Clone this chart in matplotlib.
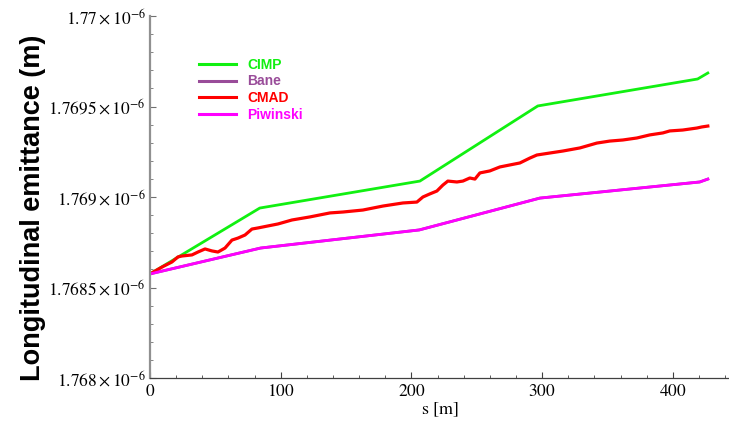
import matplotlib
matplotlib.use('Agg')
from matplotlib import pyplot as plt
from matplotlib.ticker import MultipleLocator, FuncFormatter

plt.rcParams['mathtext.fontset'] = 'stix'
plt.rcParams['font.family'] = 'Liberation Serif'

# s [m] and emittance (units of 1e-6 m)
cimp_s = [0, 84.0, 206.5, 296.7, 419.0, 426.8]
cimp_e = [1.768575, 1.768939, 1.769088, 1.769503, 1.769652, 1.769685]

piw_s = [0, 84.6, 206.0, 298.3, 420.6, 426.8]
piw_e = [1.768575, 1.768718, 1.768818, 1.768994, 1.769083, 1.769099]

# Bane sits underneath Piwinski in the reference
bane_s = piw_s
bane_e = piw_e

cmad_s = [0, 9.2, 16.8, 21.4, 24.5, 32.1, 36.7, 42.1, 47.4, 52.0, 57.4, 62.7,
          67.3, 72.7, 78.0, 82.6, 90.2, 97.9, 108.6, 122.4, 137.7, 147.6, 162.9,
          178.2, 193.5, 204.2, 208.8, 214.1, 219.5, 224.1, 227.9, 234.8, 239.4,
          244.7, 248.6, 252.4, 260.0, 267.7, 275.3, 283.0, 290.6, 296.0, 305.9,
          315.9, 328.9, 341.9, 351.8, 361.8, 372.5, 382.4, 392.4, 397.7, 407.6,
          418.4, 422.2, 426.8]
cmad_e = [1.768575, 1.768613, 1.768641, 1.768669, 1.768674, 1.768680, 1.768696,
          1.768713, 1.768702, 1.768696, 1.768718, 1.768762, 1.768773, 1.768790,
          1.768823, 1.768829, 1.768840, 1.768851, 1.768873, 1.768890, 1.768912,
          1.768917, 1.768928, 1.768950, 1.768967, 1.768972, 1.769000, 1.769017,
          1.769033, 1.769066, 1.769088, 1.769083, 1.769088, 1.769105, 1.769099,
          1.769133, 1.769144, 1.769166, 1.769177, 1.769188, 1.769215, 1.769232,
          1.769243, 1.769254, 1.769271, 1.769298, 1.769309, 1.769315, 1.769326,
          1.769343, 1.769354, 1.769365, 1.769370, 1.769381, 1.769387, 1.769392]

green = '#11f011'
purple = '#994c99'
red = '#ff0000'
magenta = '#ff00ff'

fig = plt.figure(figsize=(7.29, 4.22), dpi=100)
ax = fig.add_axes([150 / 729, 44 / 422, 579 / 729, 362 / 422])

ax.plot(cimp_s, cimp_e, color=green, lw=2.0, label='CIMP')
ax.plot(bane_s, bane_e, color=purple, lw=2.0, label='Bane')
ax.plot(cmad_s, cmad_e, color=red, lw=2.3, label='CMAD')
ax.plot(piw_s, piw_e, color=magenta, lw=2.0, label='Piwinski')

ax.set_xlim(0, 443)
ax.set_ylim(1.768, 1.770)

ax.xaxis.set_major_locator(MultipleLocator(100))
ax.xaxis.set_minor_locator(MultipleLocator(20))
ax.yaxis.set_major_locator(MultipleLocator(0.0005))
ax.yaxis.set_minor_locator(MultipleLocator(0.0001))


def sci(v, pos):
    m = ('%.4f' % v).rstrip('0')
    return r'$\mathrm{%s\times10^{-6}}$' % m


ax.yaxis.set_major_formatter(FuncFormatter(sci))
ax.xaxis.set_major_formatter(FuncFormatter(lambda v, p: r'$\mathrm{%d}$' % v))

for side in ['top', 'right']:
    ax.spines[side].set_visible(False)
ax.spines['left'].set_color('#909090')
ax.spines['left'].set_linewidth(1.6)
ax.spines['bottom'].set_color('#404040')
ax.spines['bottom'].set_linewidth(0.9)

ax.tick_params(which='both', direction='in', labelsize=12.5)
ax.tick_params(axis='y', which='major', length=4, width=0.8, color='#707070', pad=3)
ax.tick_params(axis='y', which='minor', length=2.5, width=0.6, color='#707070')
ax.tick_params(axis='x', which='major', length=4, width=0.8, color='#404040', pad=4)
ax.tick_params(axis='x', which='minor', length=2.5, width=0.6, color='#404040')

ax.set_xlabel(r'$\mathrm{s\ [m]}$', fontsize=13, labelpad=1)
fig.text(33 / 729, 1 - 208 / 422, 'Longitudinal emittance (m)', rotation=90,
         ha='center', va='center', fontsize=19.5, fontweight='bold',
         family='Liberation Sans')

leg = ax.legend(loc='upper left', bbox_to_anchor=(0.0846, 0.885), frameon=False,
                borderpad=0, borderaxespad=0, handlelength=2.7, handletextpad=0.75,
                labelspacing=0.2, labelcolor='linecolor',
                prop={'family': 'Liberation Sans', 'weight': 'bold', 'size': 10})
for line in leg.get_lines():
    line.set_linewidth(2.2)

fig.savefig('out.png', dpi=100)
